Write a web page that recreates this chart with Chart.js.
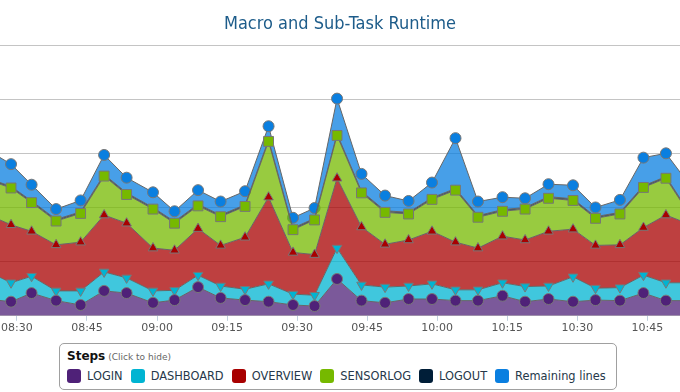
<!DOCTYPE html>
<html>
<head>
<meta charset="utf-8">
<script src="https://cdn.jsdelivr.net/npm/chart.js@4"></script>
<style>
  html, body { margin: 0; padding: 0; background: #fff; }
  body { width: 680px; height: 392px; position: relative; overflow: hidden; }
  #chart-wrap { position: absolute; left: -40px; top: 0; width: 760px; height: 336px; }
  .legend-box {
    position: absolute; left: 59px; top: 343px; width: 556px; height: 45px;
    border: 1px solid #a0a0a0; border-radius: 5px;
    font-family: "DejaVu Sans", Verdana, sans-serif; color: #26384a;
  }
  .legend-title { position: absolute; left: 7px; top: 5px; font-size: 12px; font-weight: bold; color: #111; }
  .legend-title span { font-size: 9px; font-weight: normal; color: #666; margin-left: 3px; }
  .legend-items { position: absolute; left: 7px; top: 25px; white-space: nowrap; font-size: 11.4px; }
  .legend-item { display: inline-block; margin-right: 8px; }
  .legend-item i { display: inline-block; width: 14px; height: 14px; border-radius: 3px; vertical-align: -3px; margin-right: 6px; }
</style>
</head>
<body>
<div id="chart-wrap"><canvas id="runtime" width="760" height="336"></canvas></div>
<div class="legend-box">
  <div class="legend-title">Steps<span>(Click to hide)</span></div>
  <div class="legend-items" id="legend-items"></div>
</div>
<script>
// Sample times (hh:mm:ss) and per-step runtime
const times = ['08:23:43','08:28:44','08:33:08','08:38:23','08:43:38','08:48:40','08:53:29','08:59:08','09:03:45','09:08:47',
               '09:13:37','09:18:51','09:23:53','09:29:07','09:33:44','09:38:33','09:43:47','09:48:50','09:53:52','09:58:53',
               '10:03:55','10:08:44','10:13:59','10:18:49','10:23:50','10:29:05','10:33:54','10:39:08','10:44:10','10:48:59','10:54:02'];
const login     = [3.1, 2.6, 4.2, 2.8, 2.0, 4.6, 4.2, 2.4, 2.9, 5.3, 3.3, 2.9, 2.6, 2.0, 1.8, 6.8, 2.8, 2.4, 3.1, 3.1, 2.8, 2.8, 3.7, 2.6, 3.1, 2.6, 2.9, 2.8, 4.2, 2.8, 2.8];
const dashboard = [5.1, 3.5, 3.1, 1.8, 2.6, 3.5, 2.8, 2.2, 1.8, 2.2, 2.2, 2.0, 3.3, 2.0, 2.0, 5.7, 2.9, 2.9, 2.4, 2.8, 2.0, 2.0, 2.4, 2.8, 2.4, 4.6, 2.2, 2.4, 3.3, 3.3, 3.3];
const overview  = [10.5, 10.7, 8.3, 8.5, 9.0, 10.5, 10.1, 7.9, 7.4, 8.6, 7.5, 9.6, 16.0, 7.7, 7.5, 12.9, 10.7, 7.9, 8.5, 9.7, 8.8, 7.7, 8.6, 8.6, 10.1, 8.8, 7.9, 7.9, 8.8, 12.5, 10.8];
const sensorlog = [6.4, 6.8, 5.3, 4.4, 5.3, 7.2, 5.3, 7.2, 5.0, 4.2, 5.3, 5.7, 10.3, 4.2, 6.4, 7.9, 6.3, 5.9, 4.8, 5.9, 9.6, 5.7, 4.6, 5.7, 6.1, 5.3, 5.0, 5.7, 7.4, 6.8, 1.8];
const logout    = [0.3, 0.3, 0.3, 0.3, 0.3, 0.3, 0.3, 0.3, 0.3, 0.3, 0.3, 0.3, 0.3, 0.3, 0.3, 0.3, 0.3, 0.3, 0.3, 0.3, 0.3, 0.3, 0.3, 0.3, 0.3, 0.3, 0.3, 0.3, 0.3, 0.3, 0.3];
const remaining = [5.2, 4.1, 3.0, 1.9, 2.1, 3.6, 2.8, 2.8, 1.9, 2.6, 2.5, 2.5, 2.5, 1.9, 1.9, 6.5, 3.2, 2.8, 2.1, 2.8, 9.3, 2.6, 2.3, 1.7, 2.3, 2.5, 1.7, 2.3, 5.2, 4.3, 5.2];

const tickLabels = ['08:30','08:45','09:00','09:15','09:30','09:45','10:00','10:15','10:30','10:45'];

const steps = [
    { name: 'LOGIN',           values: login,     color: '#4f2178', style: 'circle' },
    { name: 'DASHBOARD',       values: dashboard, color: '#00b4d2', style: 'triangle', rotation: 180 },
    { name: 'OVERVIEW',        values: overview,  color: '#a80000', style: 'triangle' },
    { name: 'SENSORLOG',       values: sensorlog, color: '#76b900', style: 'rect', radius: 7 },
    { name: 'LOGOUT',          values: logout,    color: '#001e38', style: 'triangle', radius: 3 },
    { name: 'Remaining lines', values: remaining, color: '#0a7fe0', style: 'circle' }
];

// Helper: "hh:mm[:ss]" -> minutes since midnight
function toMinutes(t) {
    const p = t.split(':').map(Number);
    return p[0] * 60 + p[1] + (p[2] || 0) / 60;
}

function fade(hex, a) {
    const n = parseInt(hex.slice(1), 16);
    return `rgba(${n >> 16}, ${(n >> 8) & 255}, ${n & 255}, ${a})`;
}

const datasets = steps.map((s, i) => ({
    label: s.name,
    data: s.values.map((v, k) => ({ x: toMinutes(times[k]), y: v })),
    fill: i === 0 ? 'origin' : '-1',
    backgroundColor: fade(s.color, 0.75),
    borderColor: '#666',
    borderWidth: 1,
    pointStyle: s.style,
    pointRotation: s.rotation || 0,
    pointRadius: s.radius || 5.5,
    pointBackgroundColor: s.color,
    pointBorderColor: '#777',
    pointBorderWidth: 1,
    tension: 0
}));

// HTML legend
const legendEl = document.getElementById('legend-items');
steps.forEach(s => {
    const item = document.createElement('span');
    item.className = 'legend-item';
    item.innerHTML = `<i style="background:${s.color}"></i>${s.name}`;
    legendEl.appendChild(item);
});

// visible window: 08:30 sits 50px into the 760px canvas, 4.77 px per minute
const pxPerMin = 4.77;
const xMin = toMinutes('08:30') - 50 / pxPerMin;
const xMax = xMin + 760 / pxPerMin;

new Chart(document.getElementById('runtime'), {
    type: 'line',
    data: { datasets: datasets },
    options: {
        responsive: false,
        animation: false,
        devicePixelRatio: 1,
        layout: { padding: 0 },
        plugins: {
            legend: { display: false },
            tooltip: { enabled: false },
            title: {
                display: true,
                text: 'Macro and Sub-Task Runtime',
                color: '#1d5c8a',
                font: { family: '"DejaVu Sans Condensed", "Liberation Sans Narrow", sans-serif', size: 18, weight: 'normal' },
                padding: { top: 14, bottom: 9.4 }
            }
        },
        scales: {
            x: {
                type: 'linear',
                min: xMin,
                max: xMax,
                afterBuildTicks: scale => {
                    scale.ticks = tickLabels.map(t => ({ value: toMinutes(t) }));
                },
                ticks: {
                    autoSkip: false,
                    maxRotation: 0,
                    padding: 1,
                    color: '#555',
                    font: { family: '"DejaVu Sans", Verdana, sans-serif', size: 11 },
                    callback: v => {
                        const h = Math.floor(v / 60), m = Math.round(v % 60);
                        return String(h).padStart(2, '0') + ':' + String(m).padStart(2, '0');
                    }
                },
                grid: { drawOnChartArea: false, drawTicks: true, tickLength: 5, color: '#c0d0e0' },
                border: { display: false }
            },
            y: {
                stacked: true,
                min: 0,
                max: 50,
                ticks: { display: false, stepSize: 10 },
                grid: { drawTicks: false, color: '#c4c4c4' },
                border: { display: false }
            }
        }
    }
});
</script>
</body>
</html>
